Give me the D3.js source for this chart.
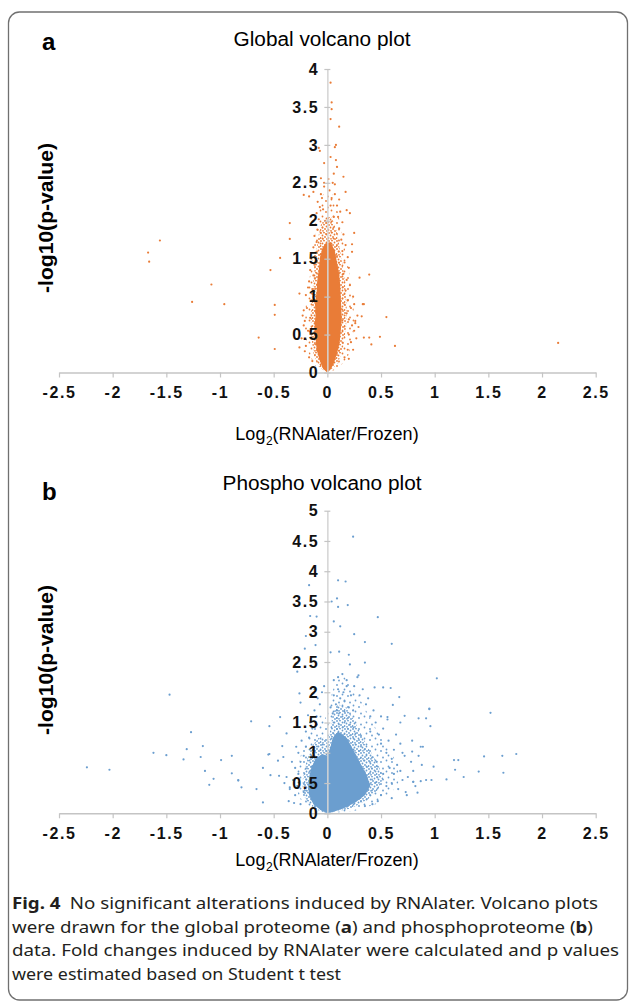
<!DOCTYPE html>
<html lang="en">
<head>
    <meta charset="utf-8">
    <title>Volcano plots</title>
    <script src="https://d3js.org/d3.v7.min.js"></script>
    <style>
        body { margin: 0; background: #fff; }
        svg { display: block; }
    </style>
</head>

<body>
    <script type="text/javascript">
        // tick values
        var xTicks = [-2.5, -2, -1.5, -1, -0.5, 0, 0.5, 1, 1.5, 2, 2.5];
        var yTicksGlobal = [0, 0.5, 1, 1.5, 2, 2.5, 3, 3.5, 4];
        var yTicksPhospho = [0, 0.5, 1, 1.5, 2, 2.5, 3, 3.5, 4, 4.5, 5];

        // outlines of the dense clouds [log2 ratio, -log10 p]
        // solid = saturated centre, mid = closely packed dots, outer = loose dots
        var globalSolid = [[0, 0], [-0.04, 0.05], [-0.07, 0.15], [-0.1, 0.3], [-0.11, 0.45], [-0.12, 0.6], [-0.11, 0.75], [-0.115, 0.9], [-0.1, 1.05],
            [-0.095, 1.2], [-0.08, 1.35], [-0.07, 1.5], [-0.05, 1.62], [-0.02, 1.7], [0.03, 1.72], [0.07, 1.6], [0.09, 1.45], [0.11, 1.3], [0.12, 1.15],
            [0.125, 1.0], [0.13, 0.85], [0.135, 0.7], [0.125, 0.55], [0.115, 0.4], [0.09, 0.25], [0.06, 0.12], [0.03, 0.04]];
        var globalMid = [[0, 0], [-0.08, 0.08], [-0.13, 0.25], [-0.15, 0.5], [-0.155, 0.75], [-0.14, 1.0], [-0.13, 1.25], [-0.11, 1.5], [-0.09, 1.75],
            [-0.06, 1.95], [-0.02, 2.05], [0.04, 2.05], [0.09, 1.85], [0.12, 1.6], [0.15, 1.35], [0.17, 1.1], [0.18, 0.85], [0.175, 0.6], [0.15, 0.35], [0.1, 0.12]];
        var globalOuter = [[0, 0], [-0.12, 0.1], [-0.19, 0.3], [-0.21, 0.6], [-0.2, 0.9], [-0.17, 1.2], [-0.14, 1.5], [-0.11, 1.8], [-0.08, 2.1], [-0.04, 2.35],
            [0.03, 2.4], [0.08, 2.25], [0.12, 1.95], [0.16, 1.65], [0.2, 1.35], [0.23, 1.05], [0.25, 0.75], [0.24, 0.45], [0.19, 0.2], [0.1, 0.05]];
        var phosphoSolid = [[0, 0], [-0.06, 0.05], [-0.13, 0.15], [-0.17, 0.3], [-0.18, 0.45], [-0.17, 0.6], [-0.15, 0.75], [-0.11, 0.9], [-0.05, 0.98],
            [0, 0.95], [0.03, 1.1], [0.05, 1.25], [0.1, 1.35], [0.18, 1.25], [0.25, 1.02], [0.31, 0.82], [0.37, 0.62], [0.4, 0.45], [0.35, 0.3],
            [0.26, 0.18], [0.15, 0.08], [0.05, 0.02]];
        var phosphoMid = [[0, 0], [-0.1, 0.06], [-0.19, 0.18], [-0.23, 0.35], [-0.23, 0.55], [-0.21, 0.75], [-0.18, 0.95], [-0.14, 1.12], [-0.08, 1.25],
            [-0.03, 1.25], [0.0, 1.15], [0.03, 1.4], [0.05, 1.65], [0.1, 1.8], [0.18, 1.75], [0.26, 1.5], [0.33, 1.25], [0.41, 1.0], [0.48, 0.78], [0.52, 0.58],
            [0.47, 0.38], [0.37, 0.22], [0.22, 0.08]];
        var phosphoOuter = [[0, 0], [-0.16, 0.08], [-0.26, 0.25], [-0.3, 0.5], [-0.28, 0.75], [-0.24, 1.0], [-0.2, 1.25], [-0.14, 1.45], [-0.08, 1.6],
            [-0.03, 1.65], [0.0, 1.5], [0.03, 1.9], [0.08, 2.2], [0.16, 2.25], [0.25, 2.05], [0.33, 1.8], [0.42, 1.5], [0.5, 1.25], [0.6, 1.0], [0.66, 0.75],
            [0.66, 0.5], [0.58, 0.3], [0.45, 0.15], [0.25, 0.04]];

        // individual points outside the dense cloud
        var globalPoints = [
            [-1.56, 1.74], [-1.67, 1.58], [-1.66, 1.46], [-1.08, 1.16], [-1.26, 0.93], [-0.96, 0.90], [-0.35, 1.97], [-0.35, 1.76], [-0.44, 1.51],
            [-0.53, 1.35], [-0.26, 1.04], [-0.49, 0.89], [-0.49, 0.76], [-0.64, 0.46], [-0.49, 0.31], [-0.22, 0.82], [-0.21, 0.68], [-0.26, 0.33],
            [0.39, 1.29], [0.30, 1.25], [0.33, 0.90], [0.32, 0.74], [0.55, 0.73], [0.49, 0.47], [0.39, 0.46], [0.34, 0.46], [0.41, 0.37], [0.63, 0.35],
            [2.15, 0.39], [0.23, 1.69], [0.21, 2.10], [0.18, 2.14], [0.26, 0.65], [0.25, 1.84], [0.23, 1.59], [0.34, 0.90],
            [0.03, 3.82], [0.04, 3.56], [0.04, 3.47], [0.03, 3.34], [0.11, 3.24], [0.08, 3.00], [0.07, 2.97], [-0.07, 2.92], [-0.08, 2.96], [0.03, 2.84],
            [-0.03, 2.76], [0.08, 2.80], [0.09, 2.71], [0.06, 2.62], [0.15, 2.58], [-0.06, 2.56], [-0.13, 2.38], [-0.22, 2.34], [-0.17, 2.32], [0.17, 2.38],
            [0.07, 2.48], [-0.03, 2.45],
            [-0.2, 0.35], [-0.18, 0.55], [-0.22, 0.62], [-0.16, 0.72], [-0.19, 0.85], [-0.15, 0.95], [-0.2, 1.02], [-0.14, 1.1], [-0.17, 1.2], [-0.13, 1.28],
            [-0.16, 1.35], [-0.12, 1.42], [-0.15, 1.5], [-0.11, 1.58], [-0.13, 1.65], [-0.1, 1.72], [-0.12, 1.8], [-0.09, 1.88], [-0.11, 1.95], [-0.08, 2.02],
            [-0.1, 2.1], [-0.07, 2.18], [-0.09, 2.25], [-0.05, 2.3], [-0.24, 0.45], [-0.21, 0.28], [-0.17, 0.2], [-0.14, 0.15], [-0.23, 0.75], [-0.18, 1.12],
            [0.16, 0.2], [0.19, 0.3], [0.22, 0.4], [0.2, 0.5], [0.25, 0.55], [0.23, 0.62], [0.2, 0.7], [0.26, 0.68], [0.18, 0.78], [0.22, 0.85], [0.19, 0.95],
            [0.24, 1.0], [0.17, 1.08], [0.21, 1.15], [0.18, 1.22], [0.15, 1.3], [0.2, 1.38], [0.16, 1.45], [0.19, 1.52], [0.14, 1.6], [0.17, 1.68], [0.13, 1.75],
            [0.15, 1.82], [0.11, 1.9], [0.14, 1.98], [0.1, 2.05], [0.12, 2.12], [0.09, 2.2], [0.11, 2.28], [0.07, 2.35], [0.27, 0.45], [0.29, 0.6], [0.24, 0.3],
            [0.2, 0.18], [0.28, 0.75], [0.25, 0.9],
            [0.02, 2.4], [-0.03, 2.5], [0.05, 2.5], [0.01, 2.55], [0.03, 2.2], [-0.04, 2.15], [0.06, 2.05], [-0.02, 2.0], [0.04, 2.3], [-0.06, 2.35]
        ];
        var phosphoPoints = [
            [0.24, 4.57], [0.10, 3.85], [0.17, 3.83], [-0.17, 3.77], [0.04, 3.50], [0.09, 3.55], [0.19, 3.44], [0.10, 3.41], [0.47, 3.24], [-0.16, 3.26],
            [-0.10, 3.25], [0.06, 3.17], [0.12, 3.09], [-0.20, 2.93], [0.25, 2.96], [0.35, 2.83], [0.60, 2.80], [-0.11, 2.78], [-0.21, 2.72], [0.11, 2.67],
            [0.03, 2.66], [0.20, 2.62], [0.35, 2.49], [0.21, 2.46], [-0.28, 2.34], [0.29, 2.28], [0.44, 2.08], [0.59, 2.07], [0.52, 2.08], [0.95, 1.72],
            [0.85, 1.57], [-0.44, 1.59], [-0.54, 1.44], [-0.71, 1.52], [-0.26, 1.98], [-0.25, 1.83], [-0.89, 0.95], [-0.83, 0.55], [-0.80, 0.43], [-0.66, 0.40],
            [-0.60, 0.18], [-0.60, 0.75], [-0.53, 0.63], [-0.54, 0.98], [-0.46, 0.87], [0.79, 1.20], [0.87, 1.10], [0.88, 0.80], [0.80, 0.52], [0.73, 0.35],
            [-2.24, 0.76], [-2.03, 0.72], [-1.47, 1.96], [-1.27, 1.34], [-1.62, 1.00], [-1.50, 0.96], [-1.31, 1.06], [-1.34, 0.89], [-1.16, 1.11], [-1.18, 0.93],
            [-1.14, 0.70], [-1.06, 0.57], [-1.10, 0.47], [-0.99, 0.88], [-0.89, 0.66], [-0.83, 0.54], [-0.55, 0.97], [-0.38, 1.32], [-0.42, 1.11], [-0.41, 0.93],
            [-0.45, 0.62], [-0.35, 0.43], [-0.31, 0.17],
            [1.52, 1.66], [1.76, 0.98], [1.63, 0.95], [1.46, 0.94], [1.64, 0.67], [1.41, 0.69], [1.27, 0.60], [1.19, 0.72], [1.18, 0.88], [1.22, 0.88],
            [1.11, 0.56], [1.02, 2.23], [0.95, 1.73], [0.92, 1.57], [0.96, 1.44], [0.99, 0.77], [0.97, 0.55], [0.92, 0.55], [0.87, 0.53], [0.84, 0.34],
            [0.80, 0.52], [0.89, 1.10], [0.79, 1.02], [0.85, 0.95], [0.67, 1.92], [0.72, 1.61], [0.61, 1.79], [0.56, 1.59], [0.68, 1.50],
            [0.5, 0.3], [0.55, 0.45], [0.6, 0.5], [0.62, 0.65], [0.58, 0.75], [0.65, 0.8], [0.6, 0.9], [0.68, 0.7], [0.7, 0.55], [0.66, 0.4], [0.72, 0.95],
            [0.55, 1.0], [0.62, 1.05], [0.5, 1.15], [0.57, 1.2], [0.48, 1.3], [0.52, 1.4], [0.45, 1.5], [0.4, 1.6], [0.43, 1.7], [0.36, 1.8], [0.3, 1.95],
            [0.33, 2.05], [0.25, 2.1], [0.18, 2.2], [0.1, 2.25], [0.14, 2.3], [0.06, 2.2], [0.75, 0.6], [0.78, 0.85], [0.74, 0.3], [0.68, 1.15], [0.64, 1.3],
            [0.56, 1.55], [0.47, 0.2], [0.42, 0.15], [0.35, 0.12], [0.52, 0.65], [0.46, 0.85], [0.7, 1.0], [0.8, 0.7], [0.82, 0.45], [0.6, 0.25], [0.38, 1.9],
            [0.28, 2.25], [0.22, 1.95], [0.4, 1.35], [0.5, 1.6],
            [-0.25, 0.15], [-0.3, 0.3], [-0.28, 0.45], [-0.32, 0.55], [-0.27, 0.65], [-0.3, 0.75], [-0.25, 0.85], [-0.22, 0.95], [-0.27, 1.0], [-0.2, 1.1],
            [-0.24, 1.2], [-0.17, 1.25], [-0.2, 1.35], [-0.14, 1.4], [-0.16, 1.5], [-0.1, 1.6], [-0.12, 1.7], [-0.07, 1.8], [-0.09, 1.9], [-0.05, 2.0],
            [-0.35, 0.4], [-0.38, 0.6], [-0.33, 0.85], [-0.36, 0.2], [-0.4, 0.5], [-0.29, 1.1], [-0.22, 0.35], [-0.12, 2.05], [-0.03, 2.1], [-0.18, 1.62],
            [0.05, 1.65], [0.08, 1.8], [0.12, 1.9], [0.16, 1.85], [0.2, 1.75], [0.06, 1.95], [0.1, 2.05], [0.15, 2.0], [0.24, 1.7], [0.03, 1.75], [0.18, 2.1], [0.09, 1.7]
        ];

        var w = 629;
        var h = 1002;
        var axisGray = "#c4c4c4";
        var sans = "Liberation Sans, Arimo, Arial, sans-serif";

        var svg = d3.select("body")
                    .append("svg")
                    .attr("width", w)
                    .attr("height", h)
                    .attr("font-family", sans);

        // dot textures for the packed parts of each cloud
        var defs = svg.append("defs");
        function dotPattern(id, size, dots, color) {
            var p = defs.append("pattern")
                .attr("id", id)
                .attr("patternUnits", "userSpaceOnUse")
                .attr("width", size).attr("height", size);
            p.selectAll("circle").data(dots).enter().append("circle")
                .attr("cx", function(d) { return d[0]; })
                .attr("cy", function(d) { return d[1]; })
                .attr("r", 0.9)
                .attr("fill", color);
        }
        var denseDots = [[1, 1], [4, 0.5], [6.5, 2.5], [2.5, 3.5], [5, 5], [0.5, 6], [3, 6.8], [7, 7]];
        var looseDots = [[1.5, 1.5], [7, 3], [3.5, 7.5], [9, 9.5]];
        dotPattern("denseA", 8, denseDots, "#E97C37");
        dotPattern("looseA", 11, looseDots, "#E97C37");
        dotPattern("denseB", 8, denseDots, "#6B9ECF");
        dotPattern("looseB", 11, looseDots, "#6B9ECF");

        // figure frame
        svg.append("rect")
            .attr("x", 8.5).attr("y", 12)
            .attr("width", 619).attr("height", 988)
            .attr("rx", 11)
            .attr("fill", "none")
            .attr("stroke", "#707070")
            .attr("stroke-width", 1.3);

        var x = d3.scaleLinear().domain([-2.5, 2.5]).range([59, 595.7]);

        function styleTicks(axisG) {
            axisG.attr("font-family", sans).attr("font-size", 16).attr("font-weight", "bold");
            axisG.selectAll("text")
                .attr("font-family", sans)
                .attr("font-size", 16)
                .attr("font-weight", "bold")
                .attr("letter-spacing", 1.6)
                .attr("fill", "#111");
        }

        function drawPanel(p) {
            var y = d3.scaleLinear().domain([0, p.yMax]).range([p.y0, p.y1]);
            var g = svg.append("g");
            var shape = d3.line()
                          .x(function(d) { return x(d[0]); })
                          .y(function(d) { return y(d[1]); })
                          .curve(d3.curveLinearClosed);

            // x axis
            var xAxis = g.append("g")
                .attr("transform", "translate(0," + p.y0 + ")")
                .call(d3.axisBottom(x).tickValues(xTicks).tickSize(5).tickSizeOuter(0).tickPadding(9)
                        .tickFormat(function(d) { return d; }));
            xAxis.select(".domain").attr("stroke", axisGray).attr("stroke-width", 1.5);
            xAxis.selectAll(".tick line").attr("stroke", axisGray).attr("stroke-width", 1.2);
            styleTicks(xAxis);

            // dense cloud, then single points
            g.append("path").datum(p.outer).attr("d", shape).attr("fill", "url(#" + p.loose + ")");
            g.append("path").datum(p.mid).attr("d", shape).attr("fill", "url(#" + p.dense + ")");
            g.append("path").datum(p.solid).attr("d", shape).attr("fill", p.color);
            g.selectAll("circle.pt")
                .data(p.points)
                .enter()
                .append("circle")
                .attr("class", "pt")
                .attr("cx", function(d) { return x(d[0]); })
                .attr("cy", function(d) { return y(d[1]); })
                .attr("r", 1.1)
                .attr("fill", p.color);

            // y axis sits at log2 ratio 0, over the points
            var yAxis = g.append("g")
                .attr("transform", "translate(" + x(0) + ",0)")
                .call(d3.axisLeft(y).tickValues(p.yTicks).tickSize(3).tickSizeOuter(0).tickPadding(5)
                        .tickFormat(function(d) { return d; }));
            yAxis.select(".domain").attr("stroke", "#d4d4d4").attr("stroke-width", 1.5);
            yAxis.selectAll(".tick line").attr("x1", -3).attr("x2", 3)
                .attr("stroke", axisGray).attr("stroke-width", 1.2);
            styleTicks(yAxis);

            // panel letter and title
            g.append("text")
                .attr("x", 42).attr("y", p.letterY)
                .attr("font-weight", "bold").attr("font-size", 24)
                .text(p.letter);
            g.append("text")
                .attr("x", 322).attr("y", p.titleY)
                .attr("text-anchor", "middle")
                .attr("font-size", 20)
                .attr("textLength", p.titleLen).attr("lengthAdjust", "spacingAndGlyphs")
                .text(p.title);

            // axis titles
            var xt = g.append("text")
                .attr("x", 327).attr("y", p.xTitleY)
                .attr("text-anchor", "middle")
                .attr("font-size", 18);
            xt.append("tspan").text("Log");
            xt.append("tspan").attr("dx", 0.5).attr("dy", 5).attr("font-size", 12).text("2");
            xt.append("tspan").attr("dy", -5).text("(RNAlater/Frozen)");

            g.append("text")
                .attr("transform", "translate(53," + p.yTitleMid + ") rotate(-90)")
                .attr("text-anchor", "middle")
                .attr("font-weight", "bold").attr("font-size", 19.5)
                .attr("textLength", 150).attr("lengthAdjust", "spacingAndGlyphs")
                .text("-log10(p-value)");
        }

        drawPanel({
            letter: "a", letterY: 50, title: "Global volcano plot", titleY: 46, titleLen: 177,
            yMax: 4, y0: 372.5, y1: 69, yTicks: yTicksGlobal, xTitleY: 440, yTitleMid: 218,
            solid: globalSolid, mid: globalMid, outer: globalOuter, points: globalPoints,
            color: "#E97C37", dense: "denseA", loose: "looseA"
        });
        drawPanel({
            letter: "b", letterY: 500, title: "Phospho volcano plot", titleY: 490, titleLen: 199,
            yMax: 5, y0: 813.3, y1: 510.7, yTicks: yTicksPhospho, xTitleY: 866, yTitleMid: 660,
            solid: phosphoSolid, mid: phosphoMid, outer: phosphoOuter, points: phosphoPoints,
            color: "#6B9ECF", dense: "denseB", loose: "looseB"
        });

        // caption
        var cap = svg.append("g")
            .attr("font-family", "Noto Sans, Open Sans, sans-serif")
            .attr("font-size", 15.5)
            .attr("fill", "#231f20");
        var l1 = cap.append("text").attr("x", 12).attr("y", 909)
            .attr("textLength", 586).attr("lengthAdjust", "spacingAndGlyphs");
        l1.append("tspan").attr("font-weight", "bold").text("Fig. 4");
        l1.append("tspan").text("\u2002No significant alterations induced by RNAlater. Volcano plots");
        var l2 = cap.append("text").attr("x", 12).attr("y", 933)
            .attr("textLength", 581).attr("lengthAdjust", "spacingAndGlyphs");
        l2.append("tspan").text("were drawn for the global proteome (");
        l2.append("tspan").attr("font-weight", "bold").text("a");
        l2.append("tspan").text(") and phosphoproteome (");
        l2.append("tspan").attr("font-weight", "bold").text("b");
        l2.append("tspan").text(")");
        cap.append("text").attr("x", 12).attr("y", 956)
            .attr("textLength", 607).attr("lengthAdjust", "spacingAndGlyphs")
            .text("data. Fold changes induced by RNAlater were calculated and p values");
        cap.append("text").attr("x", 12).attr("y", 980)
            .attr("textLength", 329).attr("lengthAdjust", "spacingAndGlyphs")
            .text("were estimated based on Student t test");
    </script>
</body>
</html>
